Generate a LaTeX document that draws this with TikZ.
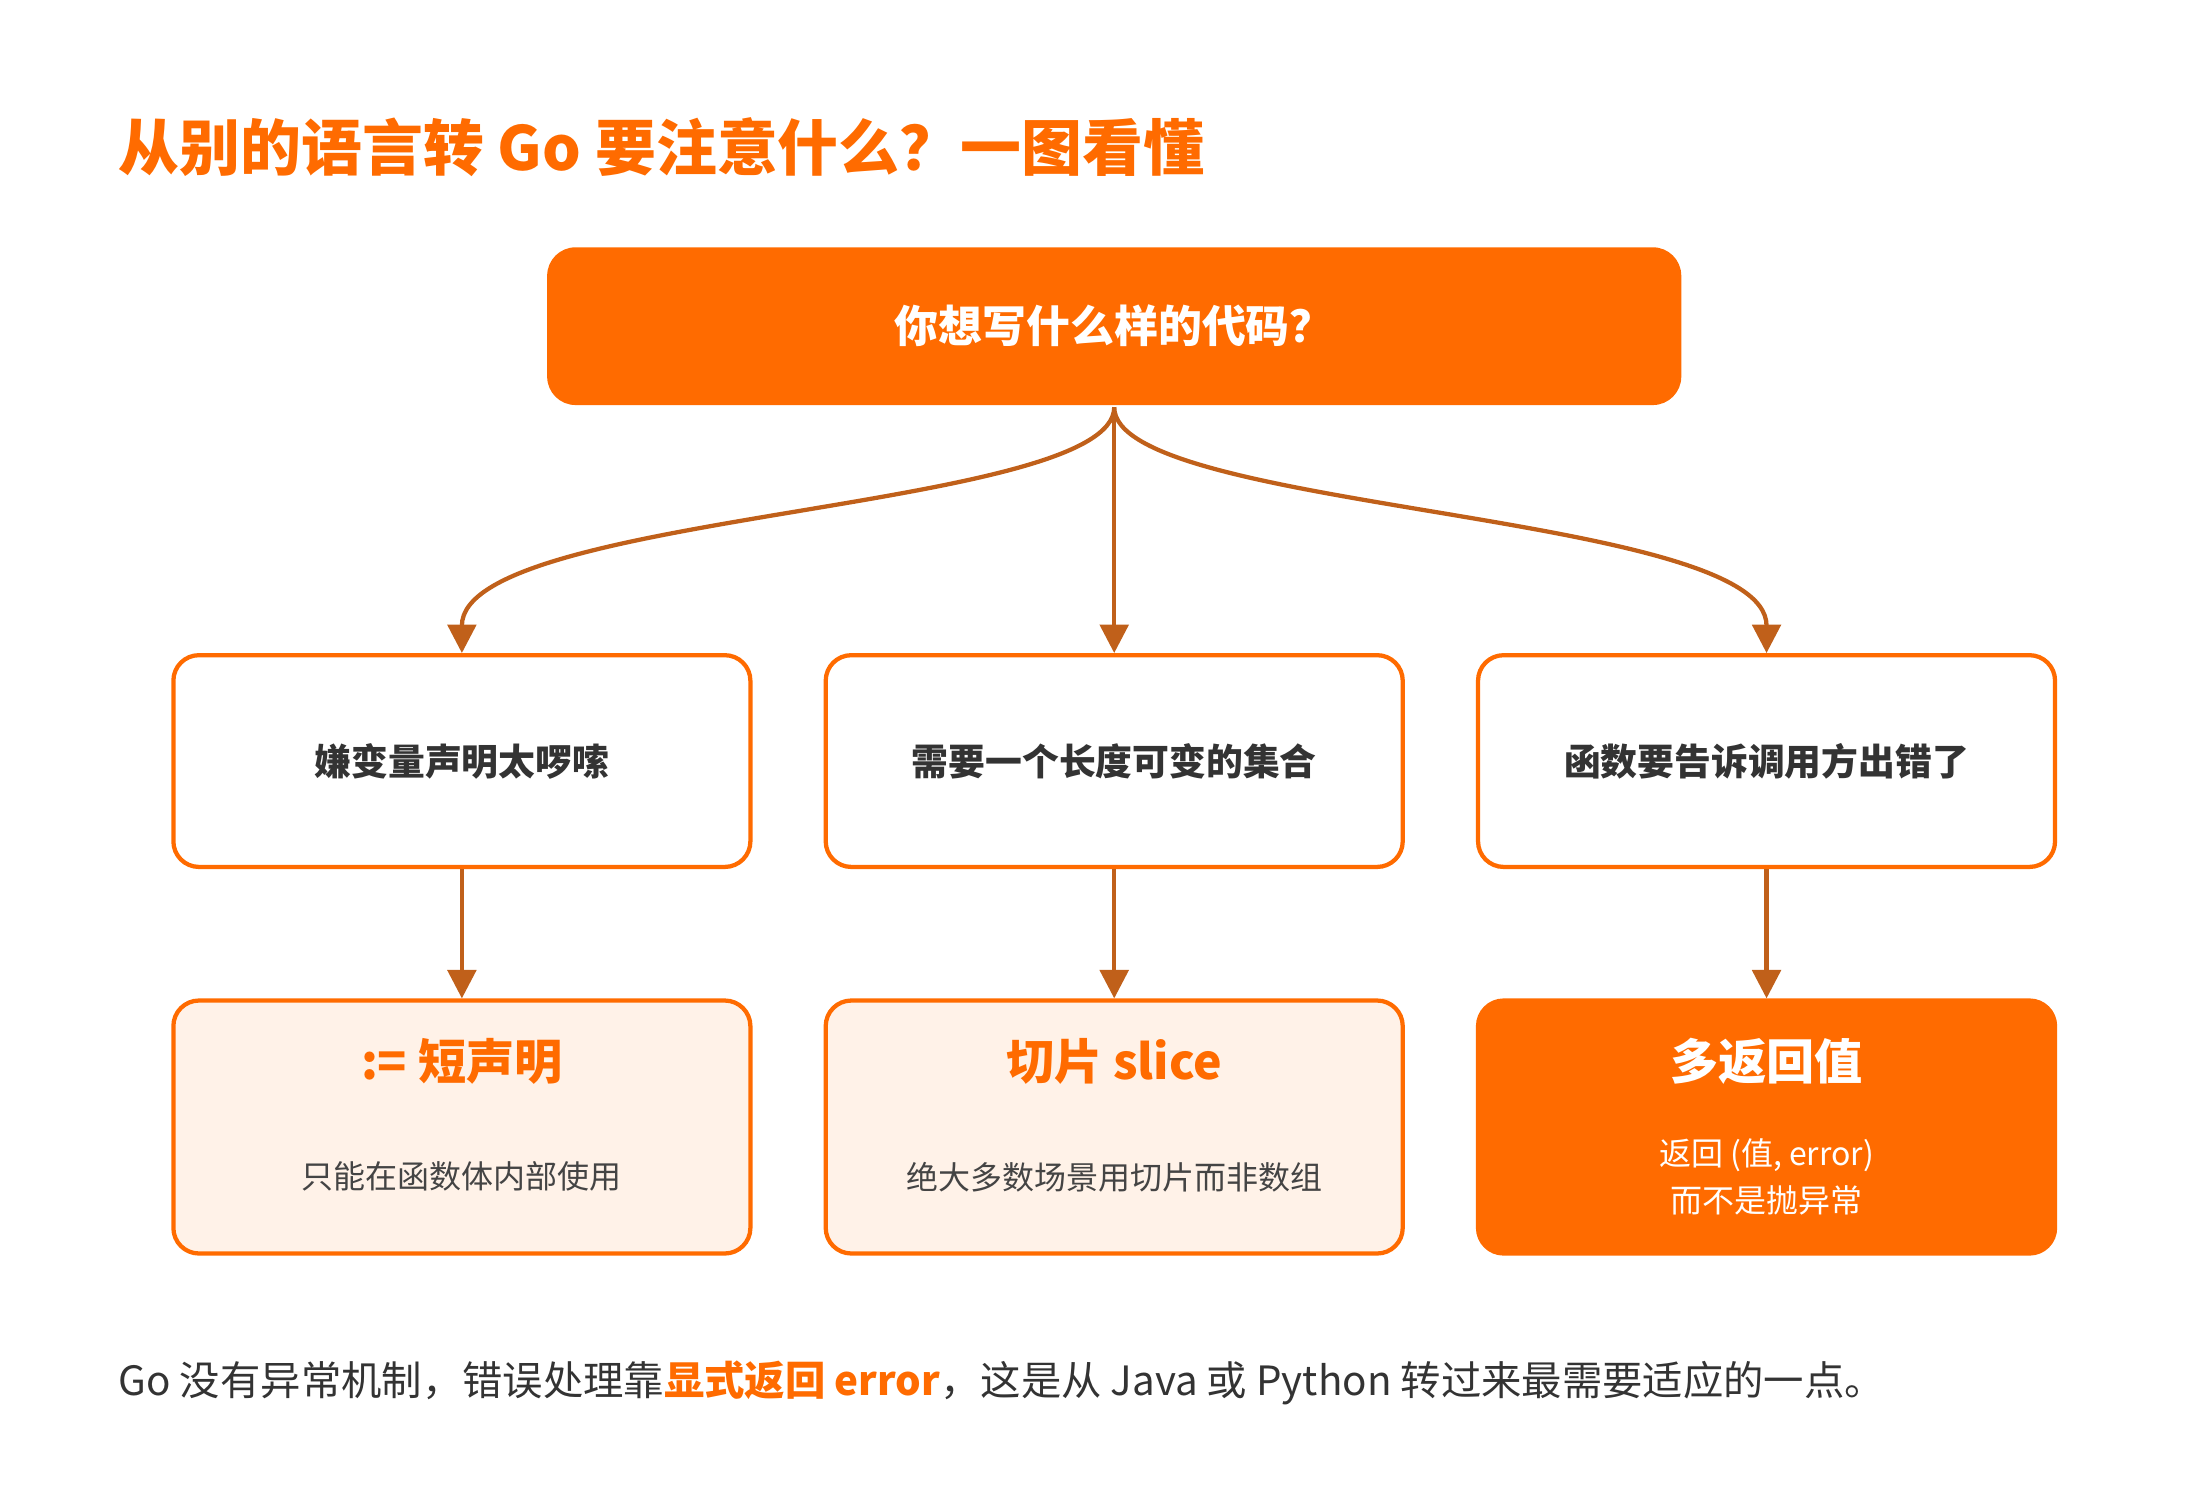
\documentclass[tikz,border=0pt]{standalone}
\usepackage{fontspec}
\setmainfont{Noto Sans CJK SC}
\usetikzlibrary{arrows.meta}
\definecolor{org}{HTML}{FF6B00}
\definecolor{arr}{HTML}{C0601A}
\definecolor{pale}{HTML}{FFF2E8}
\definecolor{txt}{HTML}{333333}
\definecolor{sub}{HTML}{444444}
\begin{document}
\begin{tikzpicture}[x=1bp,y=-1bp,
  box/.style={draw=org,line width=3bp,rounded corners=18bp,minimum width=406bp,inner sep=0},
  mid/.style={box,fill=white,minimum height=149bp,font=\fontsize{26}{30}\selectfont\bfseries,text=txt},
  bot/.style={box,fill=pale,minimum height=178bp},
  con/.style={draw=arr,line width=3bp,-{Triangle[length=20bp,width=20bp]}}]
\useasboundingbox (0,0) rectangle (1548,1047);
\node[anchor=base west,text=org,font=\fontsize{43}{50}\selectfont\bfseries] (title) at (80,120) {从别的语言转 Go 要注意什么？一图看懂};
\node[box,fill=org,draw=none,minimum width=798bp,minimum height=111bp,rounded corners=20bp,text=white,font=\fontsize{31}{36}\selectfont\bfseries] (top) at (784,229.5) {你想写什么样的代码？};
\node[mid] (m1) at (325,535.5) {嫌变量声明太啰嗦};
\node[mid] (m2) at (784,535.5) {需要一个长度可变的集合};
\node[mid] (m3) at (1243,535.5) {函数要告诉调用方出错了};
\node[bot] (b1) at (325,793) {};
\node[bot] (b2) at (784,793) {};
\node[bot,fill=org] (b3) at (1243,793) {};
\node[text=org,font=\fontsize{34}{38}\selectfont\bfseries] (t1) at (325,747) {:= 短声明};
\node[text=org,font=\fontsize{34}{38}\selectfont\bfseries] (t2) at (784,747) {切片 slice};
\node[text=white,font=\fontsize{34}{38}\selectfont\bfseries] (t3) at (1243,747) {多返回值};
\node[text=sub,font=\fontsize{22.6}{26}\selectfont] (s1) at (325,828) {只能在函数体内部使用};
\node[text=sub,font=\fontsize{22.6}{26}\selectfont] (s2) at (784,828) {绝大多数场景用切片而非数组};
\node[text=white,font=\fontsize{22.6}{33}\selectfont,align=center] (s3) at (1243,828) {返回 (值, error)\\而不是抛异常};
\draw[con] (top.south) .. controls (784,360) and (325,360) .. (m1.north);
\draw[con] (top.south) -- (m2.north);
\draw[con] (top.south) .. controls (784,360) and (1243,360) .. (m3.north);
\draw[con] (m1.south) -- (b1.north);
\draw[con] (m2.south) -- (b2.north);
\draw[con] (m3.south) -- (b3.north);
\node[anchor=base west,text=txt,font=\fontsize{28.5}{32}\selectfont] (foot) at (80,982) {Go 没有异常机制，错误处理靠\textcolor{org}{\bfseries 显式返回 error}，这是从 Java 或 Python 转过来最需要适应的一点。};
\end{tikzpicture}
\end{document}
